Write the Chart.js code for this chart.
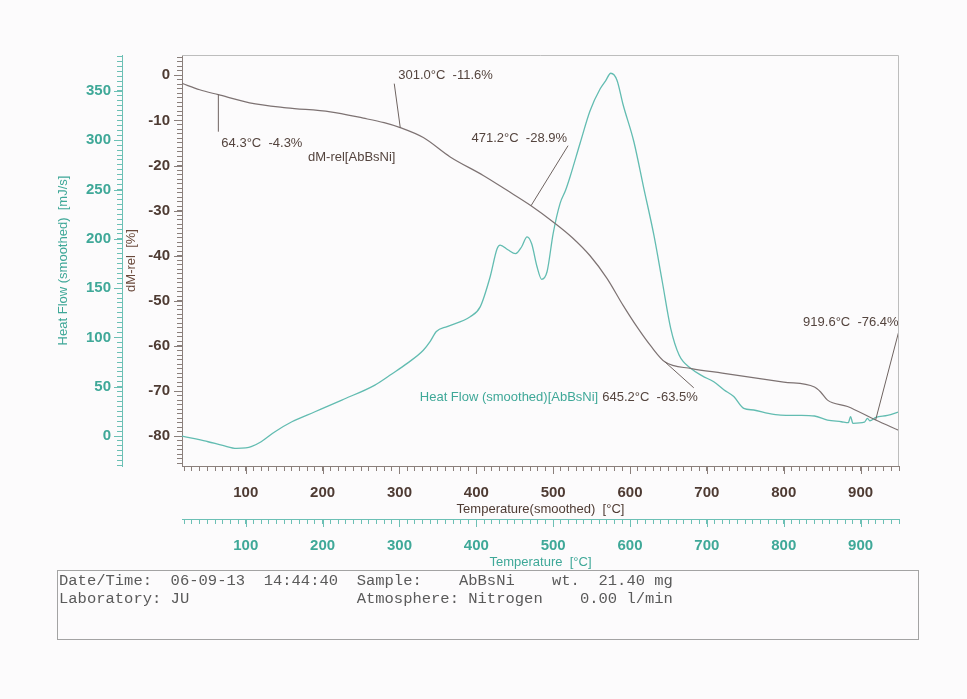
<!DOCTYPE html>
<html><head><meta charset="utf-8">
<script src="https://cdn.jsdelivr.net/npm/chart.js@4.4.1/dist/chart.umd.min.js"></script>
<style>
html,body{margin:0;padding:0;background:#fcfbfc;}
#wrap{position:relative;width:967px;height:699px;overflow:hidden;background:#fcfbfc;}
#c{position:absolute;left:0;top:0;}
#info{position:absolute;left:57px;top:570px;width:862px;height:70px;border:1px solid #a3a3a3;
 font:15.5px "Liberation Mono","Courier New",monospace;color:#5a5a5a;white-space:pre;line-height:18px;padding:1px 0 0 1px;box-sizing:border-box;}
</style></head>
<body><div id="wrap"><canvas id="c" width="967" height="699"></canvas><div id="info"></div></div>
<script>
// ---- data ----
const dmTemp  = [17, 40, 64.3, 105, 153, 210, 253, 280, 301, 331, 366, 409, 440, 471.2, 500, 525, 548, 570, 591, 610, 627, 645.2, 680, 720, 760, 800, 840, 848, 857, 883, 919.6, 950];
const dmValue = [-1.8, -3.2, -4.3, -6.1, -7.2, -8.1, -9.5, -10.5, -11.6, -13.8, -18.1, -22.2, -25.5, -28.9, -32.5, -36, -40, -45, -51, -56, -60, -63.5, -65, -66, -67, -68, -69.1, -70.2, -72, -73.4, -76.4, -78.7];
const hfTemp  = [17,35,51,70,88,100,107,120,138,160,190,225,268,290,310,331,340,348,362,392,405,418,427,431,441,451,459,466,472,479,485,492,500,509,516,522,535,548,561,568,575,583,591,605,618,631,642,653,664,679,694,709,722,735,748,761,780,796,820,840,857,875,884,887,890,905,909,912,920,935,950];
const hfValue = [0,-3,-5.8,-9.5,-12.5,-12,-10.8,-5.8,4.4,14.5,24.6,36.5,51.7,63,73.7,87,96,106,111,121,131,161.6,190,193.7,189,185,192,202,195,171.7,159,166.6,205.6,236,249,263,297,330,352,360,368,361,336,298.5,251,204,156.5,109,82,68.7,61,55,47,40,28,26.4,23,21.3,21,20.3,16.2,14.5,13.5,19.6,12.9,14,18,15.5,19,21,24.6];
const annTemp  = [64.3, 301.0, 471.2, 645.2, 919.6];
const annValue = [-4.3, -11.6, -28.9, -63.5, -76.4];
const tempRange = [17, 950];
const dmRange = [-86.6, 4.5];
const hfRange = [-30.4, 386.5];
const tempMajor = 100, tempMinor = 10;
const hfMajor = 50, hfMinor = 5;
const dmMajor = 10, dmMinor = 1;
const infoLines = [
  "Date/Time:  06-09-13  14:44:40  Sample:    AbBsNi    wt.  21.40 mg",
  "Laboratory: JU                  Atmosphere: Nitrogen    0.00 l/min"
];
document.getElementById('info').textContent = infoLines.join('\n');

// ---- styles ----
const TEAL = '#3fa898', TEAL_LINE = '#62bcb1', BROWN = '#4e3b33', GREY = '#7d7272';
const FONT = '"Liberation Sans", Arial, sans-serif';
Chart.defaults.font.family = FONT;
const annStyle = {
  leader: [[0,37],[-6,-44],[37,-60],[29,26],[23,-88]],
  text: [[3,12,'left'],[4,-8,'left'],[-1,-7,'right'],[4,10,'right'],[0,-10,'right']]
};
const dmLabelPos = [181, -18.2];

function majorCb(step){ return v => (Math.abs(Math.round(v) - v) < 1e-6 && Math.round(v) % step === 0) ? String(Math.round(v)) : ''; }
function xScale(weight, color, tickColor, title){
  return {type:'linear', position:'bottom', weight, min:tempRange[0], max:tempRange[1],
    afterFit(s){ s.height = 53; },
    ticks:{stepSize:tempMinor, autoSkip:false, maxRotation:0, includeBounds:false, padding:13,
      color, font:{size:15, weight:'bold'}, callback:majorCb(tempMajor)},
    grid:{drawOnChartArea:false, tickLength:5, tickColor, tickWidth:1},
    border:{color:tickColor, width:1},
    title:{display:true, text:title, color, font:{size:13}, padding:{top:0,bottom:weight?2:2}}};
}

const majorPlugin = {
  id:'major',
  afterDraw(chart){
    const ctx = chart.ctx;
    const defs = {x:tempMajor, x2:tempMajor, yHF:hfMajor, yDM:dmMajor};
    ctx.save();
    for (const id in defs){
      const s = chart.scales[id]; const step = defs[id];
      ctx.strokeStyle = s.options.grid.tickColor; ctx.lineWidth = 1;
      s.ticks.forEach(t => {
        const r = Math.round(t.value);
        if (Math.abs(r - t.value) > 1e-6 || r % step !== 0) return;
        const p = Math.round(s.getPixelForValue(t.value)) + 0.5;
        ctx.beginPath();
        if (s.isHorizontal()){ ctx.moveTo(p, s.top); ctx.lineTo(p, s.top + 8); }
        else { ctx.moveTo(s.right, p); ctx.lineTo(s.right - 8, p); }
        ctx.stroke();
      });
    }
    const a = chart.chartArea;
    ctx.strokeStyle = '#bdbdbd';
    ctx.beginPath(); ctx.moveTo(a.left, a.top + 0.5); ctx.lineTo(a.right - 0.5, a.top + 0.5); ctx.lineTo(a.right - 0.5, a.bottom); ctx.stroke();
    ctx.restore();
  }
};

const annPlugin = {
  id:'ann',
  afterDatasetsDraw(chart){
    const ctx = chart.ctx, xs = chart.scales.x, ys = chart.scales.yDM;
    ctx.save();
    ctx.font = '13px ' + FONT; ctx.textBaseline = 'middle'; ctx.lineWidth = 1;
    let hfAnchor = null;
    annTemp.forEach((t, i) => {
      const px = xs.getPixelForValue(t), py = ys.getPixelForValue(annValue[i]);
      const [dx, dy] = annStyle.leader[i];
      ctx.strokeStyle = '#6e6360';
      ctx.beginPath(); ctx.moveTo(px, py); ctx.lineTo(px + dx, py + dy); ctx.stroke();
      const [tx, ty, al] = annStyle.text[i];
      const label = t.toFixed(1) + '°C  ' + annValue[i].toFixed(1) + '%';
      ctx.textAlign = al; ctx.fillStyle = '#54443e';
      const lx = px + dx + tx, ly = py + dy + ty;
      ctx.fillText(label, lx, ly);
      if (i === 3){ const w = ctx.measureText(label).width; hfAnchor = [al === 'right' ? lx - w : lx, ly]; }
    });
    ctx.textAlign = 'right'; ctx.fillStyle = TEAL;
    ctx.fillText('Heat Flow (smoothed)[AbBsNi]', hfAnchor[0] - 4, hfAnchor[1]);
    ctx.textAlign = 'left'; ctx.fillStyle = '#54443e';
    ctx.fillText('dM-rel[AbBsNi]', xs.getPixelForValue(dmLabelPos[0]), ys.getPixelForValue(dmLabelPos[1]));
    ctx.restore();
  }
};

new Chart(document.getElementById('c'), {
  type:'line',
  data:{datasets:[
    {label:'dM-rel[AbBsNi]', data:dmTemp.map((t,i)=>({x:t,y:dmValue[i]})), xAxisID:'x', yAxisID:'yDM',
     borderColor:GREY, borderWidth:1.2, pointRadius:0, cubicInterpolationMode:'monotone', fill:false},
    {label:'Heat Flow (smoothed)[AbBsNi]', data:hfTemp.map((t,i)=>({x:t,y:hfValue[i]})), xAxisID:'x', yAxisID:'yHF',
     borderColor:TEAL_LINE, borderWidth:1.3, pointRadius:0, cubicInterpolationMode:'monotone', fill:false}
  ]},
  options:{
    responsive:false, animation:false, devicePixelRatio:1,
    layout:{padding:{left:52, right:68, top:55, bottom:127}},
    plugins:{legend:{display:false}, tooltip:{enabled:false}},
    scales:{
      x: xScale(0, BROWN, '#8a7f7b', 'Temperature(smoothed)  [°C]'),
      x2: xScale(1, TEAL, '#6cc0b5', 'Temperature  [°C]'),
      yHF:{type:'linear', position:'left', weight:2, min:hfRange[0], max:hfRange[1],
        afterFit(s){ s.width = 70; },
        ticks:{stepSize:hfMinor, autoSkip:false, includeBounds:false, padding:6, color:TEAL, font:{size:15, weight:'bold'}, callback:majorCb(hfMajor)},
        grid:{drawOnChartArea:false, tickLength:5, tickColor:'#6cc0b5'},
        border:{color:'#6cc0b5'},
        title:{display:true, text:'Heat Flow (smoothed)  [mJ/s]', color:TEAL, font:{size:13}, padding:{top:4,bottom:0}}},
      yDM:{type:'linear', position:'left', weight:1, min:dmRange[0], max:dmRange[1],
        afterFit(s){ s.width = 60; },
        ticks:{stepSize:dmMinor, autoSkip:false, includeBounds:false, padding:7, color:BROWN, font:{size:15, weight:'bold'}, callback:majorCb(dmMajor)},
        grid:{drawOnChartArea:false, tickLength:5, tickColor:'#8a7f7b'},
        border:{color:'#8a7f7b'},
        title:{display:true, text:'dM-rel  [%]', color:'#6a4a3c', font:{size:13}, padding:{top:2,bottom:0}}}
    }
  },
  plugins:[majorPlugin, annPlugin]
});
</script></body></html>
